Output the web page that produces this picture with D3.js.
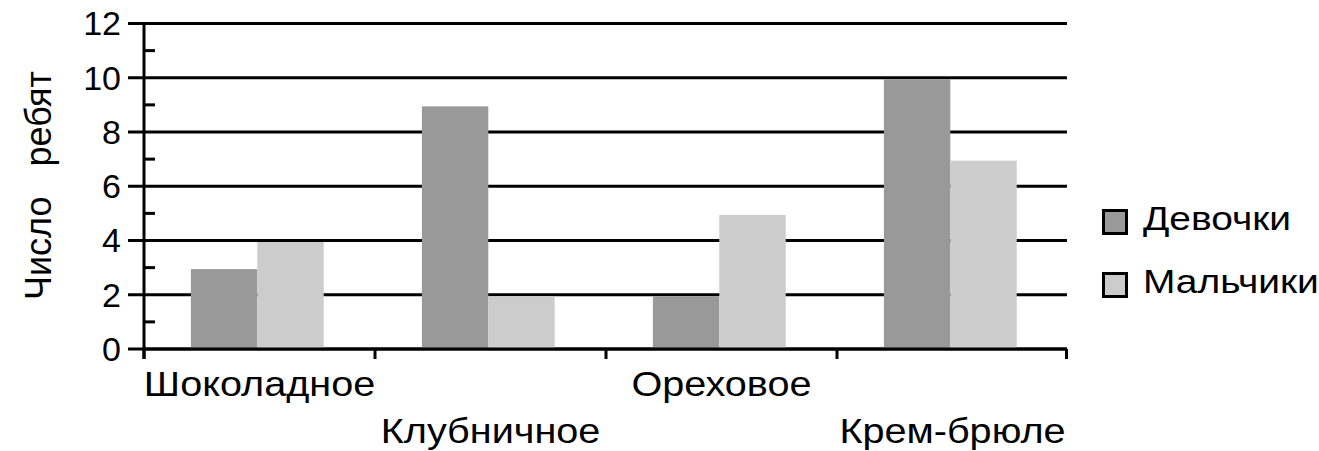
<!DOCTYPE html>
<head>
  <meta charset="UTF-8">
  <script src="https://d3js.org/d3.v7.min.js"></script>
  <title>Мороженое</title>
  <style>
    body { margin: 0; background: #fff; }
    text { font-family: "Liberation Sans", Arial, sans-serif; fill: #000; }
  </style>
</head>
<body>
  <svg id="chart"></svg>
  <script>

    var categories = ["Шоколадное", "Клубничное", "Ореховое", "Крем-брюле"];
    var seriesNames = ["Девочки", "Мальчики"];
    var girls = [3, 9, 2, 10];
    var boys = [4, 2, 5, 7];
    var majorTicks = [0, 2, 4, 6, 8, 10, 12];
    var minorTicks = [1, 3, 5, 7, 9, 11];
    var colors = ["#999999", "#cccccc"];

    var width = 1319;
    var height = 451;

    var svg = d3.select("#chart")
        .attr("width", width)
        .attr("height", height);

    var plotLeft = 144, plotRight = 1068, plotTop = 23.5, plotBottom = 349;

    var x0 = d3.scaleBand()
        .domain(categories)
        .range([plotLeft, plotRight])
        .padding(0);

    var x1 = d3.scaleBand()
        .domain(seriesNames)
        .range([x0.bandwidth() * 0.203, x0.bandwidth() * 0.778]);

    var y = d3.scaleLinear()
        .domain([0, 12])
        .range([plotBottom, plotTop]);

    // gridlines (drawn first, bars sit on top)
    svg.selectAll(".grid")
        .data(majorTicks)
        .enter().append("line")
        .attr("x1", plotLeft - 16)
        .attr("x2", plotRight - 1)
        .attr("y1", function(d) { return y(d); })
        .attr("y2", function(d) { return y(d); })
        .attr("stroke", "#000")
        .attr("stroke-width", 3);

    var data = categories.map(function(c, i) {
        return { cat: c, values: [girls[i], boys[i]] };
    });

    var groups = svg.selectAll(".group")
        .data(data)
        .enter().append("g")
        .attr("transform", function(d) { return "translate(" + x0(d.cat) + ",0)"; });

    groups.selectAll("rect")
        .data(function(d) {
            return d.values.map(function(v, j) { return { name: seriesNames[j], value: v, j: j }; });
        })
        .enter().append("rect")
        .attr("x", function(d) { return x1(d.name); })
        .attr("width", x1.bandwidth())
        .attr("y", function(d) { return y(d.value) + 1.5; })
        .attr("height", function(d) { return y(0) - y(d.value) - 1.5; })
        .attr("fill", function(d) { return colors[d.j]; });

    // y axis line
    svg.append("line")
        .attr("x1", plotLeft).attr("x2", plotLeft)
        .attr("y1", plotTop - 1.5).attr("y2", plotBottom + 10)
        .attr("stroke", "#000").attr("stroke-width", 3);

    // x axis line (redraw over bars)
    svg.append("line")
        .attr("x1", plotLeft).attr("x2", plotRight - 1)
        .attr("y1", plotBottom).attr("y2", plotBottom)
        .attr("stroke", "#000").attr("stroke-width", 3);

    // minor ticks inside
    svg.selectAll(".minor")
        .data(minorTicks)
        .enter().append("line")
        .attr("x1", plotLeft)
        .attr("x2", plotLeft + 11)
        .attr("y1", function(d) { return y(d); })
        .attr("y2", function(d) { return y(d); })
        .attr("stroke", "#000")
        .attr("stroke-width", 3);

    // category boundary ticks
    var bounds = categories.map(function(c) { return x0(c); }).concat([plotRight]);
    svg.selectAll(".xtick")
        .data(bounds)
        .enter().append("line")
        .attr("x1", function(d, i) { return i == bounds.length - 1 ? d - 1.5 : d; })
        .attr("x2", function(d, i) { return i == bounds.length - 1 ? d - 1.5 : d; })
        .attr("y1", plotBottom)
        .attr("y2", plotBottom + 10)
        .attr("stroke", "#000")
        .attr("stroke-width", 3);

    // y tick labels
    svg.selectAll(".ylab")
        .data(majorTicks)
        .enter().append("text")
        .attr("x", 121)
        .attr("y", function(d) { return y(d); })
        .attr("dy", "0.35em")
        .attr("text-anchor", "end")
        .attr("font-size", 34)
        .text(function(d) { return d; });

    // category labels, staggered
    svg.selectAll(".xlab")
        .data(categories)
        .enter().append("text")
        .attr("transform", function(d, i) {
            return "translate(" + (x0(d) + x0.bandwidth() / 2) + "," + (i % 2 == 0 ? 396 : 443) + ") scale(1.1,1)";
        })
        .attr("text-anchor", "middle")
        .attr("font-size", 36)
        .text(function(d) { return d; });

    // y title
    svg.append("text")
        .attr("transform", "translate(51," + ((74 + 297) / 2) + ") rotate(-90)")
        .attr("text-anchor", "middle")
        .attr("font-size", 36)
        .attr("xml:space", "preserve")
        .style("white-space", "pre")
        .text("Число   ребят");

    // legend
    var legend = svg.selectAll(".legend")
        .data(seriesNames)
        .enter().append("g")
        .attr("transform", function(d, i) { return "translate(1102," + (209 + i * 63) + ")"; });

    legend.append("rect")
        .attr("x", 1.5).attr("y", 1.5)
        .attr("width", 23).attr("height", 23)
        .attr("fill", function(d, i) { return colors[i]; })
        .attr("stroke", "#000")
        .attr("stroke-width", 3);

    legend.append("text")
        .attr("transform", "translate(41,21) scale(1.18,1)")
        .attr("font-size", 33)
        .text(function(d) { return d; });

  </script>
</body>
</html>
